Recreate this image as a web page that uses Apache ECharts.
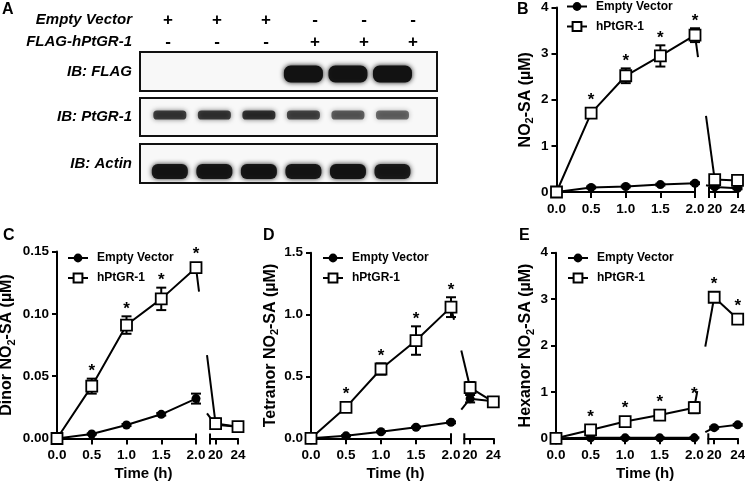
<!DOCTYPE html>
<html><head><meta charset="utf-8">
<script src="https://cdn.jsdelivr.net/npm/echarts@6/dist/echarts.min.js"></script>
<style>html,body{margin:0;padding:0;background:#fff}#c{width:745px;height:483px}</style>
</head><body><div id="c"></div><script>
// ===== Panel A (western blot) data =====
const laneIds = [1, 2, 3, 4, 5, 6];
const treatmentRows = ['Empty Vector', 'FLAG-hPtGR-1'];
const emptyVectorSigns = ['+', '+', '+', '-', '-', '-'];
const flagHPtGR1Signs = ['-', '-', '-', '+', '+', '+'];
const blotNames = ['IB: FLAG', 'IB: PtGR-1', 'IB: Actin'];
const flagBandIntensity = [0.0, 0.0, 0.0, 1.0, 0.97, 1.0];
const ptgr1BandIntensity = [0.74, 0.76, 0.80, 0.70, 0.60, 0.56];
const actinBandIntensity = [0.95, 0.95, 0.96, 0.95, 0.98, 0.93];

// ===== Time-course data (B-E) =====
const timePoints = [0, 0.5, 1, 1.5, 2, 20, 24];
const seriesNames = ['Empty Vector', 'hPtGR-1'];
const leftTickLabels = ['0.0', '0.5', '1.0', '1.5', '2.0'];
const rightTickLabels = ['20', '24'];

// B: NO2-SA (uM)
const bEmptyVector    = [0, 0.10, 0.12, 0.16, 0.19, 0.11, 0.08];
const bEmptyVectorSEM = [0, 0.02, 0.02, 0.02, 0.02, 0.02, 0.02];
const bHPtGR1         = [0, 1.71, 2.52, 2.95, 3.40, 0.27, 0.25];
const bHPtGR1SEM      = [0, 0.06, 0.16, 0.23, 0.15, 0.05, 0.04];
const bSignificant    = [0, 1, 1, 1, 1, 0, 0];
// C: Dinor NO2-SA (uM)
const cEmptyVector    = [0, 0.0036, 0.0108, 0.0194, 0.032, 0.011, 0.0095];
const cEmptyVectorSEM = [0, 0.0005, 0.0008, 0.0010, 0.004, 0.002, 0.001];
const cHPtGR1         = [0, 0.042, 0.091, 0.112, 0.137, 0.012, 0.0095];
const cHPtGR1SEM      = [0, 0.006, 0.007, 0.009, 0.003, 0.004, 0.001];
const cSignificant    = [0, 1, 1, 1, 1, 0, 0];
// D: Tetranor NO2-SA (uM)
const dEmptyVector    = [0, 0.02, 0.053, 0.089, 0.129, 0.32, 0.30];
const dEmptyVectorSEM = [0, 0.005, 0.005, 0.005, 0.008, 0.03, 0.01];
const dHPtGR1         = [0, 0.25, 0.56, 0.79, 1.06, 0.41, 0.295];
const dHPtGR1SEM      = [0, 0.015, 0.045, 0.115, 0.08, 0.045, 0.02];
const dSignificant    = [0, 1, 1, 1, 1, 0, 0];
// E: Hexanor NO2-SA (uM)
const eEmptyVector    = [0, 0.01, 0.01, 0.01, 0.01, 0.23, 0.29];
const eEmptyVectorSEM = [0, 0.01, 0.01, 0.01, 0.01, 0.02, 0.02];
const eHPtGR1         = [0, 0.18, 0.36, 0.50, 0.66, 3.04, 2.57];
const eHPtGR1SEM      = [0, 0.05, 0.06, 0.08, 0.12, 0.10, 0.06];
const eSignificant    = [0, 1, 1, 1, 1, 1, 1];

// ===== Layout / style =====
const FONT = '"Liberation Sans", Arial, Helvetica, sans-serif';
const BLACK = '#000';
const LW = 2;
const panels = [
  {letter:'B', letterPos:[517,2], L:{left:556.5,width:138.5}, R:{left:709,width:28.5}, top:7.5, height:184.5,
   ymax:4, yint:1, ydec:0, yname:'NO{s|2}-SA (µM)', nameGap:21, legend:{left:566,top:0.5}, xname:null,
   ev:bEmptyVector, evE:bEmptyVectorSEM, h:bHPtGR1, hE:bHPtGR1SEM, sig:bSignificant},
  {letter:'C', letterPos:[3,228], L:{left:57,width:139}, R:{left:210,width:28}, top:251.5, height:187,
   ymax:0.15, yint:0.05, ydec:2, yname:'Dinor NO{s|2}-SA (µM)', nameGap:40, legend:{left:67,top:252}, xname:34,
   ev:cEmptyVector, evE:cEmptyVectorSEM, h:cHPtGR1, hE:cHPtGR1SEM, sig:cSignificant},
  {letter:'D', letterPos:[263,228], L:{left:311,width:140}, R:{left:464.3,width:29}, top:252.7, height:185.6,
   ymax:1.5, yint:0.5, ydec:1, yname:'Tetranor NO{s|2}-SA (µM)', nameGap:28, legend:{left:322,top:252}, xname:29,
   ev:dEmptyVector, evE:dEmptyVectorSEM, h:dHPtGR1, hE:dHPtGR1SEM, sig:dSignificant},
  {letter:'E', letterPos:[519,228], L:{left:556,width:138.3}, R:{left:708.3,width:29.4}, top:252.7, height:185.6,
   ymax:4, yint:1, ydec:0, yname:'Hexanor NO{s|2}-SA (µM)', nameGap:20, legend:{left:567,top:252}, xname:40,
   ev:eEmptyVector, evE:eEmptyVectorSEM, h:eHPtGR1, hE:eHPtGR1SEM, sig:eSignificant}
];
const blotLayout = [
  {top:52, height:39, dy:2.5, h:17, w:39, data:flagBandIntensity},
  {top:98, height:38, dy:-2, h:9, w:33, data:ptgr1BandIntensity},
  {top:144, height:39, dy:8, h:15, w:36, data:actinBandIntensity}
];

const chart = echarts.init(document.getElementById('c'), null, {renderer:'canvas', width:745, height:483});
const grids = [], xAxes = [], yAxes = [], series = [];
function addGrid(g){ grids.push(Object.assign({containLabel:false, outerBoundsMode:'none', show:false}, g)); return grids.length - 1; }
function addX(a){ xAxes.push(a); return xAxes.length - 1; }
function addY(a){ yAxes.push(a); return yAxes.length - 1; }

// ---- Panel A header (treatment signs) ----
const gH = addGrid({left:143.5, top:9, width:294, height:44});
const xH = addX({gridIndex:gH, type:'value', min:0.5, max:6.5, show:false});
const yH = addY({gridIndex:gH, type:'category', data:treatmentRows, inverse:true,
  axisLine:{show:false}, axisTick:{show:false},
  axisLabel:{margin:11.5, fontFamily:FONT, fontSize:15, fontWeight:'bold', fontStyle:'italic', color:BLACK}});
const signRows = [emptyVectorSigns, flagHPtGR1Signs];
const signData = [];
signRows.forEach((row, r) => laneIds.forEach((lane, i) => signData.push([lane, r, i])));
series.push({type:'custom', xAxisIndex:xH, yAxisIndex:yH, data:signData, clip:false, silent:true,
  renderItem:(params, api) => {
    const c = api.coord([api.value(0), api.value(1)]);
    const d = signData[params.dataIndex];
    return {type:'text', x:c[0], y:c[1], style:{text:signRows[d[1]][d[2]], fill:BLACK,
      font:'bold 17px ' + FONT, align:'center', verticalAlign:'middle'}};
  }});

// ---- Panel A blots ----
blotLayout.forEach((b, k) => {
  const g = addGrid({left:140, top:b.top, width:297, height:b.height, show:true,
    backgroundColor:'#f8f8f8', borderColor:'#111', borderWidth:2});
  const xi = addX({gridIndex:g, type:'value', min:0.33, max:7.0, show:false});
  const yi = addY({gridIndex:g, type:'category', data:[blotNames[k]],
    axisLine:{show:false}, axisTick:{show:false},
    axisLabel:{margin:8, fontFamily:FONT, fontSize:15, fontWeight:'bold', fontStyle:'italic', color:BLACK}});
  series.push({type:'custom', xAxisIndex:xi, yAxisIndex:yi, silent:true, clip:true,
    data: b.data.map((v, i) => [laneIds[i], 0, v]),
    renderItem:(params, api) => {
      const c = api.coord([api.value(0), api.value(1)]);
      const v = api.value(2);
      if (!(v > 0)) return {type:'group', children:[]};
      const col = 'rgba(18,18,18,' + v + ')';
      return {type:'rect', shape:{x:c[0]-b.w/2, y:c[1]+b.dy-b.h/2, width:b.w, height:b.h, r:b.h/2.5},
        style:{fill:col, shadowBlur:5, shadowColor:col}};
    }});
});

// ---- Panels B-E ----
const axisLineStyle = {show:true, lineStyle:{color:BLACK, width:LW}};
const labelStyle = {fontFamily:FONT, fontSize:13.5, fontWeight:'bold', color:BLACK};
function errRender(params, api){
  const x = api.value(0), v = api.value(1), e = api.value(2);
  if (!(e > 0)) return {type:'group', children:[]};
  const t = api.coord([x, v+e]), b = api.coord([x, v-e]);
  const cw = 5, st = {stroke:BLACK, lineWidth:LW};
  return {type:'group', children:[
    {type:'line', shape:{x1:t[0], y1:t[1], x2:b[0], y2:b[1]}, style:st},
    {type:'line', shape:{x1:t[0]-cw, y1:t[1], x2:t[0]+cw, y2:t[1]}, style:st},
    {type:'line', shape:{x1:b[0]-cw, y1:b[1], x2:b[0]+cw, y2:b[1]}, style:st}]};
}
function starRender(params, api){
  const x = api.value(0), v = api.value(1), e = api.value(2);
  const pt = api.coord([x, v]), top = api.coord([x, v+e]);
  const y = Math.min(top[1], pt[1]-6) - 7;
  return {type:'text', x:pt[0], y:y, style:{text:'*', fill:BLACK, font:'bold 17px ' + FONT, align:'center', verticalAlign:'middle'}};
}
const legends = [];
panels.forEach(p => {
  p.gL = addGrid({left:p.L.left, width:p.L.width, top:p.top, height:p.height});
  p.gR = addGrid({left:p.R.left, width:p.R.width, top:p.top, height:p.height});
  const xL = addX(Object.assign({gridIndex:p.gL, type:'value', min:0, max:2, interval:0.5,
    axisLine:axisLineStyle, axisTick:{show:true, length:6, lineStyle:{color:BLACK, width:LW}},
    splitLine:{show:false},
    axisLabel:Object.assign({margin:10, formatter:(v) => leftTickLabels[Math.round(v*2)]}, labelStyle)},
    p.xname === null ? {} : {name:'Time (h)', nameLocation:'middle', nameGap:28,
      nameTextStyle:{fontFamily:FONT, fontSize:15, fontWeight:'bold', color:BLACK, padding:[0,0,0,p.xname]}}));
  const xR = addX({gridIndex:p.gR, type:'value', min:19, max:24,
    axisLine:axisLineStyle, axisTick:{show:true, length:6, customValues:[20,24], lineStyle:{color:BLACK, width:LW}},
    splitLine:{show:false},
    axisLabel:Object.assign({margin:10, customValues:[20,24], formatter:(v) => rightTickLabels[v === 20 ? 0 : 1]}, labelStyle)});
  const yL = addY({gridIndex:p.gL, type:'value', min:0, max:p.ymax, interval:p.yint,
    axisLine:axisLineStyle, axisTick:{show:true, length:5, lineStyle:{color:BLACK, width:LW}},
    splitLine:{show:false},
    axisLabel:Object.assign({margin:8, formatter:(v) => v.toFixed(p.ydec)}, labelStyle),
    name:p.yname, nameLocation:'middle', nameGap:p.nameGap,
    nameTextStyle:{fontFamily:FONT, fontSize:16, fontWeight:'bold', color:BLACK, lineHeight:20,
      rich:{s:{fontFamily:FONT, fontSize:11, fontWeight:'bold', color:BLACK, verticalAlign:'bottom', lineHeight:10}}}});
  const yR = addY({gridIndex:p.gR, type:'value', min:0, max:p.ymax, show:false});

  const idxL = [0,1,2,3,4], idxR = [5,6];
  [[xL, yL, idxL], [xR, yR, idxR]].forEach(([xi, yi, idx]) => {
    series.push({type:'custom', name:'err', xAxisIndex:xi, yAxisIndex:yi, z:2, clip:false, silent:true,
      data: idx.map(i => [timePoints[i], p.ev[i], p.evE[i]]).concat(idx.map(i => [timePoints[i], p.h[i], p.hE[i]])),
      renderItem:errRender});
    series.push({type:'line', name:seriesNames[0], xAxisIndex:xi, yAxisIndex:yi, z:3, clip:false,
      data: idx.map(i => [timePoints[i], p.ev[i]]), symbol:'circle', symbolSize:9,
      itemStyle:{color:BLACK}, lineStyle:{color:BLACK, width:LW}, emphasis:{disabled:true}});
    series.push({type:'line', name:seriesNames[1], xAxisIndex:xi, yAxisIndex:yi, z:4, clip:false,
      data: idx.map(i => [timePoints[i], p.h[i]]), symbol:'rect', symbolSize:11,
      itemStyle:{color:'#fff', borderColor:BLACK, borderWidth:1.8}, lineStyle:{color:BLACK, width:LW},
      emphasis:{disabled:true}});
    series.push({type:'custom', name:'sig', xAxisIndex:xi, yAxisIndex:yi, z:5, clip:false, silent:true,
      data: idx.filter(i => p.sig[i]).map(i => [timePoints[i], p.h[i], p.hE[i]]),
      renderItem:starRender});
  });
  legends.push({left:p.legend.left, top:p.legend.top, orient:'vertical', itemWidth:20, itemHeight:11, itemGap:8,
    data:seriesNames, selectedMode:false, padding:0,
    textStyle:{fontFamily:FONT, fontSize:12, fontWeight:'bold', color:BLACK, padding:[0,0,0,4]}});
});

chart.setOption({animation:false, backgroundColor:'#fff', grid:grids, xAxis:xAxes, yAxis:yAxes,
  series:series, legend:legends});

// ---- broken-axis connectors, segment end ticks, panel letters ----
const gfx = [];
function seg(a, b){ return {type:'line', z:1, silent:true, shape:{x1:a[0], y1:a[1], x2:b[0], y2:b[1]},
  style:{stroke:BLACK, lineWidth:LW}}; }
gfx.push({type:'text', x:2, y:2, z:10, style:{text:'A', font:'bold 16px ' + FONT, fill:BLACK}});
panels.forEach(p => {
  const toL = v => chart.convertToPixel({gridIndex:p.gL}, v);
  const toR = v => chart.convertToPixel({gridIndex:p.gR}, v);
  const axisY = toL([0, 0])[1];
  const leftEnd = toL([2, 0])[0], rightStart = toR([19, 0])[0];
  [p.ev, p.h].forEach(vals => {
    const a = toL([timePoints[4], vals[4]]), b = toR([timePoints[5], vals[5]]);
    const at = x => [x, a[1] + (b[1]-a[1]) * (x - a[0]) / (b[0] - a[0])];
    gfx.push(seg(a, at(leftEnd + 3)), seg(at(rightStart - 3), b));
  });
  gfx.push(seg([leftEnd, axisY-5], [leftEnd, axisY]), seg([rightStart, axisY-5], [rightStart, axisY+6]));
  gfx.push({type:'text', x:p.letterPos[0], y:p.letterPos[1], z:10,
    style:{text:p.letter, font:'bold 16px ' + FONT, fill:BLACK}});
});
chart.setOption({graphic:{elements:gfx}});
</script></body></html>
